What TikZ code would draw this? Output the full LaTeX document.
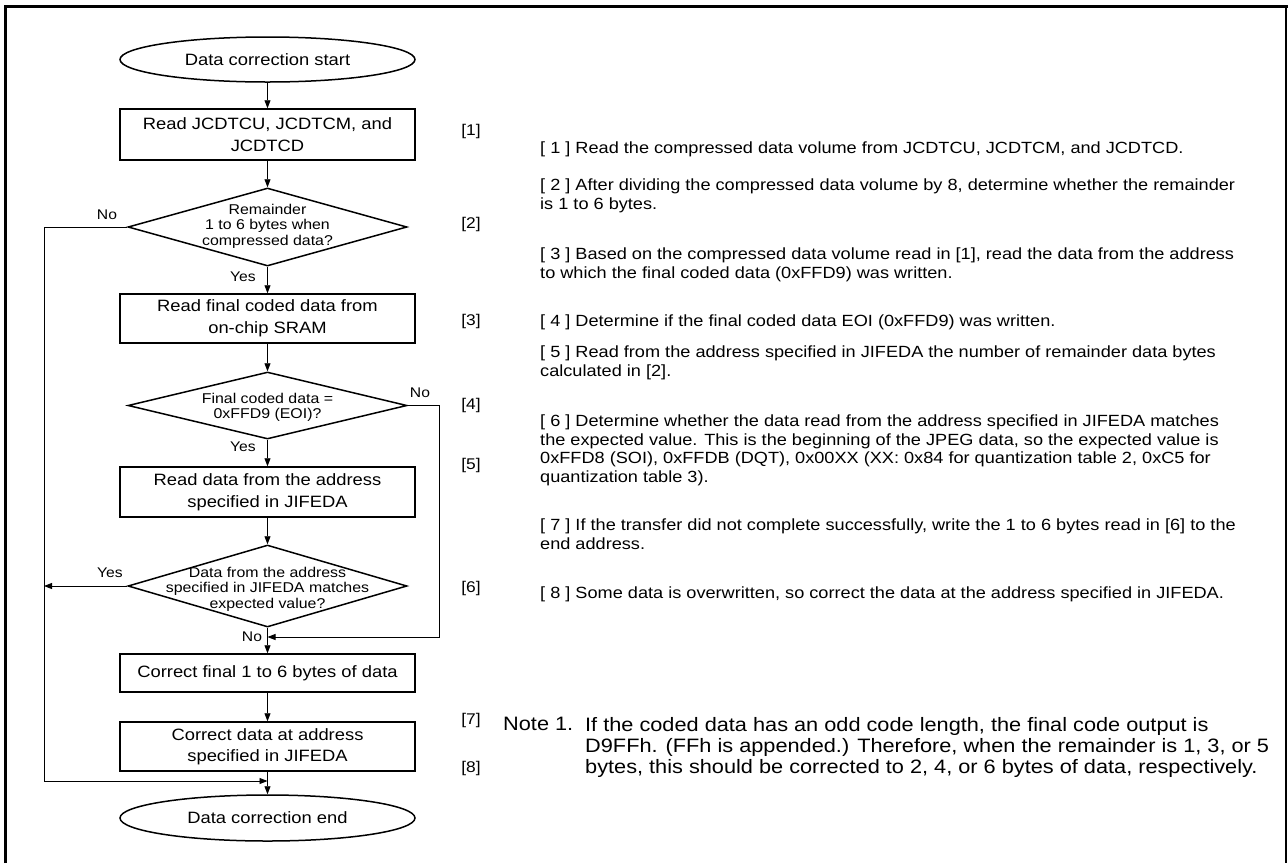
\documentclass[tikz,border=0pt]{standalone}
\usepackage{fontspec}
\setmainfont{Liberation Sans}[FakeStretch=1.12]
\usetikzlibrary{shapes.geometric,arrows.meta}
\newcommand\boxfont{\fontsize{16.4}{21.5}\selectfont}
\newcommand\diafont{\fontsize{14.2}{15.5}\selectfont}
\newcommand\ynfont{\fontsize{14}{16}\selectfont}
\newcommand\reffont{\fontsize{15.5}{17}\selectfont}
\newcommand\parafont{\fontsize{16.2}{18.5}\selectfont}
\newcommand\notefont{\fontsize{19.4}{21}\selectfont}
\begin{document}
\begin{tikzpicture}[x=1pt,y=-1pt,
  box/.style={draw, line width=1.5pt, minimum width=295pt, align=center, inner sep=0pt, font=\boxfont},
  term/.style={draw, ellipse, line width=1.5pt, minimum width=295pt, minimum height=45pt, inner sep=0pt, font=\boxfont},
  dia/.style={draw, diamond, line width=1.5pt, inner sep=0pt},
  dtext/.style={align=center, font=\diafont, inner sep=0pt},
  flow/.style={line width=0.9pt, -{Triangle[length=8pt,width=6pt]}},
  yn/.style={font=\ynfont, inner sep=0pt},
  refl/.style={font=\reffont, inner sep=0pt},
  para/.style={font=\parafont, align=left, anchor=north west, inner sep=0pt},
  notes/.style={font=\notefont, align=left, anchor=north west, inner sep=0pt}]
\useasboundingbox (0,0) rectangle (1288,863);
% frame
\draw[line width=3.3pt] (5.6,863) -- (5.6,6.6) -- (1288,6.6);
\draw[line width=2pt] (1286,6.6) -- (1286,863);
% flowchart nodes
\node[term] (start) at (267.5,59.5) {Data correction start};
\node[box, minimum height=51pt] (b1) at (267.5,134.5) {Read JCDTCU, JCDTCM, and\\JCDTCD};
\node[dia, minimum width=279pt, minimum height=78pt] (d1) at (267.5,227) {};
\node[dtext] (d1t) at (267.5,226) {Remainder\\1 to 6 bytes when\\compressed data?};
\node[box, minimum height=49pt] (b2) at (267.5,318.5) {Read final coded data from\\on-chip SRAM};
\node[dia, minimum width=279pt, minimum height=67pt] (d2) at (267.5,405.5) {};
\node[dtext] (d2t) at (267.5,407.5) {Final coded data =\\0xFFD9 (EOI)?};
\node[box, minimum height=50pt] (b3) at (267.5,492) {Read data from the address\\specified in JIFEDA};
\node[dia, minimum width=279pt, minimum height=82pt] (d3) at (267.5,586) {};
\node[dtext] (d3t) at (267.5,589) {Data from the address\\specified in JIFEDA matches\\expected value?};
\node[box, minimum height=38pt] (b4) at (267.5,673) {Correct final 1 to 6 bytes of data};
\node[box, minimum height=49pt] (b5) at (267.5,746.5) {Correct data at address\\specified in JIFEDA};
\node[term, minimum height=46pt] (end) at (267.5,818) {Data correction end};
% helper coordinates
\coordinate (lx) at (44,0);
\coordinate (rx) at (439,0);
\coordinate (j1) at (267.5,637);
\coordinate (j2) at (267.5,781);
% connectors
\draw[flow] (start) -- (b1);
\draw[flow] (b1) -- (d1);
\draw[flow] (d1) -- (b2);
\draw[flow] (b2) -- (d2);
\draw[flow] (d2) -- (b3);
\draw[flow] (b3) -- (d3);
\draw[flow] (d3) -- (b4);
\draw[flow] (b4) -- (b5);
\draw[flow] (b5) -- (end);
\draw[flow] (d1.west) -- (d1.west -| lx) |- (j2);
\draw[flow] (d3.west) -- (d3.west -| lx);
\draw[flow] (d2.east) -- (d2.east -| rx) |- (j1);
% yes/no labels
\node[yn] (n1) at (107,215) {No};
\node[yn] (y1) at (243,277) {Yes};
\node[yn] (n2) at (420,393) {No};
\node[yn] (y2) at (243,447) {Yes};
\node[yn] (y3) at (110,573) {Yes};
\node[yn] (n3) at (252,637) {No};
% reference markers
\node[refl] (r1) at (471,131) {[1]};
\node[refl] (r2) at (471,224) {[2]};
\node[refl] (r3) at (471,321) {[3]};
\node[refl] (r4) at (471,405) {[4]};
\node[refl] (r5) at (471,465) {[5]};
\node[refl] (r6) at (471,588) {[6]};
\node[refl] (r7) at (471,720) {[7]};
\node[refl] (r8) at (471,768) {[8]};
% explanations
\node[para] (p1) at (540,142) {[ 1 ] Read the compressed data volume from JCDTCU, JCDTCM, and JCDTCD.};
\node[para] (p2) at (540,179) {[ 2 ] After dividing the compressed data volume by 8, determine whether the remainder\\is 1 to 6 bytes.};
\node[para] (p3) at (540,248) {[ 3 ] Based on the compressed data volume read in [1], read the data from the address\\to which the final coded data (0xFFD9) was written.};
\node[para] (p4) at (540,315) {[ 4 ] Determine if the final coded data EOI (0xFFD9) was written.};
\node[para] (p5) at (540,346) {[ 5 ] Read from the address specified in JIFEDA the number of remainder data bytes\\calculated in [2].};
\node[para] (p6) at (540,415) {[ 6 ] Determine whether the data read from the address specified in JIFEDA matches\\the expected value. This is the beginning of the JPEG data, so the expected value is\\0xFFD8 (SOI), 0xFFDB (DQT), 0x00XX (XX: 0x84 for quantization table 2, 0xC5 for\\quantization table 3).};
\node[para] (p7) at (540,519) {[ 7 ] If the transfer did not complete successfully, write the 1 to 6 bytes read in [6] to the\\end address.};
\node[para] (p8) at (540,587) {[ 8 ] Some data is overwritten, so correct the data at the address specified in JIFEDA.};
\node[notes] (nt) at (503,717) {Note 1.};
\node[notes] (ntx) at (585,717) {If the coded data has an odd code length, the final code output is\\D9FFh. (FFh is appended.) Therefore, when the remainder is 1, 3, or 5\\bytes, this should be corrected to 2, 4, or 6 bytes of data, respectively.};
\end{tikzpicture}
\end{document}
